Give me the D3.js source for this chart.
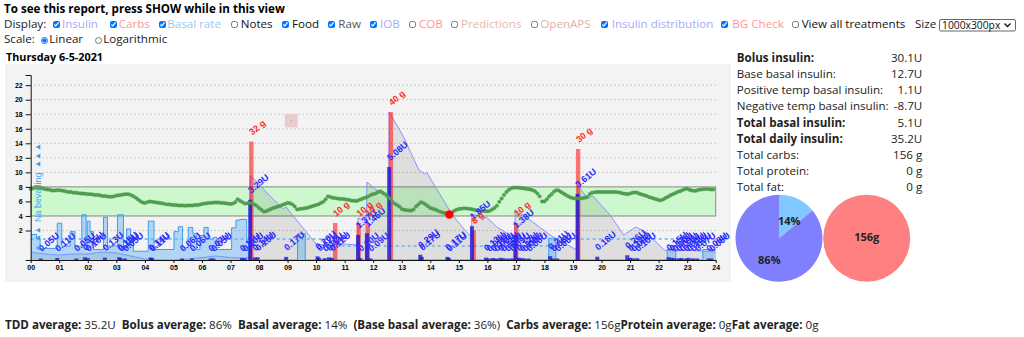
<!DOCTYPE html>
<html><head><meta charset="utf-8">
<script src="https://cdn.jsdelivr.net/npm/d3@7"></script>
<style>
body{margin:0;width:1024px;height:337px;overflow:hidden;background:#fff;position:relative;font-family:'Open Sans',sans-serif}
input{position:absolute;margin:0;padding:0;width:7px;height:7px}
</style></head>
<body>
<script>
// ---------------- DATA ----------------
const displayLabels = ["Insulin","Carbs","Basal rate","Notes","Food","Raw","IOB","COB","Predictions","OpenAPS","Insulin distribution","BG Check","View all treatments"];
const displayChecked = [true,true,true,false,true,true,true,false,false,false,true,true,false];
const displayColors = ["#a9a9f7","#ff9696","#96c8f2","#111","#111","#555","#a9a9f7","#ff9696","#e6b9a9","#e2b3a3","#a9a9f7","#ff9696","#111"];
const sizeOption = "1000x300px";

const hourLabels = d3.range(0,25).map(h => d3.format("02d")(h));
const bgTicks = [2,4,6,8,10,12,14,16,18,20,22];
const targetLow = 4, targetHigh = 8;

// sensor glucose, mmol/L, every 5 minutes from 00:00
const glucose = [
7.7,7.8,7.9,7.9,7.85,7.8,7.7,7.65,7.6,7.5,7.5,7.55,
7.55,7.5,7.45,7.35,7.3,7.3,7.2,7.2,7.15,7.1,7.1,7.05,
7.0,7.0,6.95,6.9,6.9,6.85,6.75,6.75,6.7,6.65,6.65,6.7,
6.8,6.85,6.9,6.95,7.0,7.0,6.9,6.75,6.55,6.3,6.05,5.85,
5.8,5.9,6.0,5.95,5.9,5.85,5.8,5.75,5.7,5.6,5.6,5.55,
5.5,5.5,5.45,5.45,5.45,5.4,5.45,5.45,5.45,5.5,5.5,5.55,
5.65,5.7,5.75,5.8,5.8,5.85,5.85,5.85,5.8,5.8,5.75,5.7,
5.65,5.7,5.9,6.3,6.1,5.9,5.7,5.75,5.8,5.75,5.6,5.4,
5.1,4.85,4.6,4.65,4.8,4.95,5.1,5.2,5.3,5.4,5.55,5.65,
5.8,5.75,5.6,5.3,4.9,4.95,5.0,5.05,5.1,5.2,5.3,5.4,
5.5,5.6,5.8,5.95,6.3,6.7,6.6,6.5,6.45,6.4,6.35,6.35,
6.3,6.25,6.2,6.1,6.1,6.05,6.2,6.3,6.45,6.55,6.7,6.9,
7.0,7.1,7.3,7.4,7.2,7.0,6.7,6.4,6.0,5.7,5.5,5.3,
4.95,4.85,4.8,4.75,4.75,4.9,5.3,5.6,5.9,5.8,5.6,5.35,
5.1,5.0,4.9,4.75,4.6,4.5,4.4,4.35,4.3,4.45,4.7,4.85,
4.95,5.0,5.05,5.05,5.0,4.95,4.9,4.8,4.75,4.7,4.7,4.65,
4.65,4.7,4.9,5.1,5.4,5.95,6.4,6.9,7.3,7.6,7.8,7.9,
7.9,7.9,7.85,7.8,7.75,7.7,7.65,7.55,7.4,7.1,6.7,6.0,
6.0,6.3,6.7,7.0,7.35,7.55,7.5,7.3,7.1,6.9,6.7,6.55,
6.45,6.4,6.4,6.4,6.45,6.5,6.6,7.0,7.2,7.25,7.3,7.3,
7.3,7.3,7.3,7.3,7.3,7.3,7.3,7.25,7.2,7.1,7.05,7.0,
7.1,7.2,7.25,7.2,7.05,6.95,6.85,6.75,6.6,6.5,6.4,6.3,
6.2,6.15,6.3,6.5,6.65,6.85,7.0,7.15,7.3,7.4,7.55,7.7,
7.75,7.6,7.5,7.45,7.5,7.6,7.65,7.7,7.7,7.7,7.65,7.65];

// insulin on board (U) at hour
const iobTimes = [0,0.5,1,1.5,2,2.5,3,3.5,4,4.5,5,5.5,6,6.5,7,7.5,7.68,7.7,8.0,8.25,8.6,8.85,8.95,9.2,9.6,10.0,10.3,10.65,11.0,11.45,11.47,11.76,11.78,12.2,12.54,12.56,13.03,13.6,13.8,13.87,14.2,14.8,15.27,15.44,15.46,16.0,16.33,16.8,16.96,16.98,17.4,18.2,18.8,19.14,19.16,19.5,19.7,20.3,20.78,21.2,21.55,22.2,22.5,23,23.5,24];
const iobValues = [0.38,0.3,0.25,0.3,0.3,0.4,0.35,0.2,0.05,0,0,0.05,0.12,0.2,0.12,0.1,0.15,4.2,3.8,3.4,2.9,2.55,2.65,2.2,1.5,0.8,0.75,0.85,0.8,0.75,2.1,1.95,3.9,3.4,3.2,7.4,6.25,4.5,4.3,4.4,3.6,2.2,1.4,1.15,2.3,2.1,1.65,1.25,1.2,2.5,2.1,1.25,0.75,0.5,3.75,3.1,3.2,2.25,1.25,1.65,1.4,0.5,0.45,0.5,0.45,0.4];

// temp basal rate (U/h), step starting at hour
const basalTimes = [0,0.21,0.33,0.93,1.09,1.38,1.55,1.79,1.94,1.98,2.08,2.2,2.55,2.69,3.04,3.25,3.36,3.5,3.6,4.12,4.32,5.02,5.17,5.32,5.52,5.68,5.82,5.93,6.07,6.22,6.4,6.52,7.04,7.19,7.33,7.57,7.66,9.35,9.62,18.15,18.4,22.3,22.6,23.55];
const basalRates = [0.73,0.6,0.33,1.05,0.4,0.81,0.4,1.29,0.4,1.11,0.81,0.3,1.22,0.4,1.29,0.35,0.89,0.7,0.25,1.11,0.3,0.81,0.95,0.35,0.93,0.75,0.3,0.7,0.93,0.6,0.65,0.3,0.92,1.14,1.16,0.5,0,0.75,0,0.62,0,0.3,0,0.3];
// profile basal (U/h)
const profileTimes = [0,10.5,18.25];
const profileRates = [0.6,0.4,0.6];

// boluses
const bolusTimes = [0.35,0.93,1.6,1.9,2.0,2.6,3.1,3.15,3.3,4.2,4.25,5.3,5.65,6.3,6.4,7.4,7.5,7.69,7.85,7.95,8.95,10.05,10.1,10.3,10.45,10.55,11.47,11.55,11.78,11.9,12.56,13.65,13.7,14.6,14.65,15.46,15.95,16.05,16.2,16.3,16.45,16.55,16.7,16.85,16.98,17.1,17.2,17.3,17.45,18.2,18.3,18.45,19.16,19.85,20.9,21.0,21.1,21.25,22.35,22.45,22.55,22.7,22.8,22.95,23.05,23.2,23.35,23.75,23.85];
const bolusAmounts = [0.05,0.11,0.05,0.15,0.10,0.13,0.15,0.10,0.05,0.14,0.11,0.06,0.06,0.07,0.05,0.11,0.10,3.29,0.14,0.15,0.17,0.20,0.12,0.10,0.14,0.12,1.37,0.10,1.46,0.09,5.08,0.29,0.17,0.17,0.11,1.85,0.13,0.09,0.11,0.08,0.12,0.10,0.07,0.09,1.38,0.12,0.10,0.08,0.06,0.21,0.08,0.06,3.61,0.18,0.26,0.12,0.09,0.10,0.15,0.12,0.10,0.09,0.11,0.08,0.12,0.09,0.07,0.08,0.06];

// carbs
const carbTimes = [7.73,10.67,11.49,11.81,12.62,15.52,17.01,19.18];
const carbAmounts = [32,10,10,10,40,8,10,30];

// markers
const switchTime = 0.25;
const switchLevels = [13.5,12.25,11.15,2.05,1.0,-0.4];
const switchNote = "Na bevalling";
const noteTime = 9.13, noteLevel = 17.1;
const bgCheckTime = 14.67, bgCheckValue = 4.2;

// summary table
const statLabels = ["Bolus insulin:","Base basal insulin:","Positive temp basal insulin:","Negative temp basal insulin:","Total basal insulin:","Total daily insulin:","Total carbs:","Total protein:","Total fat:"];
const statValues = ["30.1U","12.7U","1.1U","-8.7U","5.1U","35.2U","156 g","0 g","0 g"];
const statBold = [true,false,false,false,true,true,false,false,false];

const insulinPieLabels = ["Basal","Bolus"];
const insulinPieValues = [14,86];
const carbsPieValue = 156;

const footerLabels = ["TDD average:","Bolus average:","Basal average:","(Base basal average:","Carbs average:","Protein average:","Fat average:"];
const footerValues = ["35.2U","86%","14%","36%)","156g","0g","0g"];
const footerSep = ["  ","  ","  ","  ","","",""];

// ---------------- DRAW ----------------
const F = "'Open Sans', sans-serif";
const FS = 11.6;
const CF = "'Liberation Sans', Arial, sans-serif";
const body = d3.select("body");
const svg = body.append("svg").attr("width",1024).attr("height",337)
  .style("position","absolute").style("left","0px").style("top","0px");

svg.append("text").attr("x",4).attr("y",12.7).attr("font-family",F).attr("font-weight","bold")
  .attr("font-size",FS).text("To see this report, press SHOW while in this view");

// Display row
const boxX = [53.3,110,158.7,231,281.7,328.3,369.7,409.3,451,530.7,601,721,792];
const labX = [62,118.7,167.3,240.7,292,338.3,380,419,461,540.3,611.7,732.3,801.7];
svg.append("text").attr("x",4).attr("y",28).attr("font-family",F).attr("font-size",FS).attr("fill","#222").text("Display:");
displayLabels.forEach((l,i)=>{
  body.append("input").attr("type","checkbox").property("checked",displayChecked[i])
    .style("left",boxX[i]+"px").style("top","21px");
  svg.append("text").attr("x",labX[i]).attr("y",28).attr("font-family",F).attr("font-size",FS)
    .attr("fill",displayColors[i]).text(l);
});
svg.append("text").attr("x",915).attr("y",28).attr("font-family",F).attr("font-size",FS).attr("fill","#222").text("Size");
svg.append("rect").attr("x",939.5).attr("y",19.5).attr("width",76).attr("height",11.5).attr("rx",1.5)
  .attr("fill","#fff").attr("stroke","#666").attr("stroke-width",1);
svg.append("text").attr("x",942).attr("y",28.5).attr("font-family",F).attr("font-size",10.3).attr("fill","#111").text(sizeOption);
svg.append("path").attr("d","M1004.5,23.5 L1007.5,26.5 L1010.5,23.5").attr("fill","none").attr("stroke","#111").attr("stroke-width",1.4);

// Scale row
svg.append("text").attr("x",4).attr("y",43.3).attr("font-family",F).attr("font-size",FS).attr("fill","#222").text("Scale:");
body.append("input").attr("type","radio").attr("name","sc").property("checked",true).style("left","40.7px").style("top","36.5px");
svg.append("text").attr("x",49.3).attr("y",43.3).attr("font-family",F).attr("font-size",FS).attr("fill","#222").text("Linear");
body.append("input").attr("type","radio").attr("name","sc").style("left","95px").style("top","36.5px");
svg.append("text").attr("x",103.3).attr("y",43.3).attr("font-family",F).attr("font-size",FS).attr("fill","#222").text("Logarithmic");

// Title
svg.append("text").attr("x",6).attr("y",60.7).attr("font-family",F).attr("font-weight","bold").attr("font-size",10.8).text("Thursday 6-5-2021");

// panel
svg.append("rect").attr("x",5).attr("y",64).attr("width",726).attr("height",218).attr("fill","#f3f3f3");

const x = d3.scaleLinear().domain([0,24]).range([30.7,715.7]);
const y = d3.scaleLinear().domain([-2.06,23.4]).range([260,75]);
const yBolus = d3.scaleLinear().domain([0,10]).range([260,77]);
const yCarb = d3.scaleLinear().domain([0,50]).range([260,75]);
const yBasal = d3.scaleLinear().domain([0,5]).range([260,85]);
const yIob = d3.scaleLinear().domain([0,9.25]).range([260,75]);

const g = svg.append("g");
// grid
g.selectAll("line.grid").data(bgTicks).join("line").attr("class","grid")
  .attr("x1",x(0)).attr("x2",x(24)).attr("y1",d=>y(d)).attr("y2",d=>y(d))
  .attr("stroke","#aaa").attr("stroke-width",1).attr("stroke-dasharray","1,3");
// target band
g.append("rect").attr("x",x(0)).attr("y",y(targetHigh)).attr("width",x(24)-x(0)).attr("height",y(targetLow)-y(targetHigh))
  .attr("fill","#cdf7cd").attr("stroke","#8c8c8c").attr("stroke-width",1);

// IOB area
const iobData = iobTimes.map((t,i)=>[t,iobValues[i]]);
g.append("path").datum(iobData)
  .attr("d",d3.area().x(d=>x(d[0])).y0(yIob(0)).y1(d=>yIob(d[1])))
  .attr("fill","rgba(0,0,0,0.085)");
g.append("path").datum(iobData)
  .attr("d",d3.line().x(d=>x(d[0])).y(d=>yIob(d[1])))
  .attr("fill","none").attr("stroke","#8f8fff").attr("stroke-width",1);

// basal
const basalData = basalTimes.map((t,i)=>[t,basalRates[i]]);
basalData.push([24,basalRates[basalRates.length-1]]);
g.append("path").datum(basalData)
  .attr("d",d3.area().x(d=>x(d[0])).y0(yBasal(0)).y1(d=>yBasal(d[1])).curve(d3.curveStepAfter))
  .attr("fill","rgba(70,165,245,0.38)");
g.append("path").datum(basalData)
  .attr("d",d3.line().x(d=>x(d[0])).y(d=>yBasal(d[1])).curve(d3.curveStepAfter))
  .attr("fill","none").attr("stroke","#3d9cf0").attr("stroke-width",1);
const profData = profileTimes.map((t,i)=>[t,profileRates[i]]);
profData.push([24,profileRates[profileRates.length-1]]);
g.append("path").datum(profData)
  .attr("d",d3.line().x(d=>x(d[0])).y(d=>yBasal(d[1])).curve(d3.curveStepAfter))
  .attr("fill","none").attr("stroke","#5ab8f5").attr("stroke-width",1.3).attr("stroke-dasharray","3,3");

// carbs bars
const carbs = carbTimes.map((t,i)=>({t,a:carbAmounts[i]}));
g.selectAll("rect.carb").data(carbs).join("rect").attr("class","carb")
  .attr("x",d=>x(d.t)-2.2).attr("width",4.4).attr("y",d=>yCarb(d.a)).attr("height",d=>yCarb(0)-yCarb(d.a))
  .attr("fill","rgba(255,20,20,0.58)");
// bolus bars
const boluses = bolusTimes.map((t,i)=>({t,a:bolusAmounts[i]}));
g.selectAll("rect.bolus").data(boluses).join("rect").attr("class","bolus")
  .attr("x",d=>x(d.t)-2).attr("width",4).attr("y",d=>Math.min(yBolus(d.a),258.5)).attr("height",d=>260-Math.min(yBolus(d.a),258.5))
  .attr("fill","rgba(20,20,225,0.78)");

// glucose
g.selectAll("circle.sg").data(glucose).join("circle").attr("class","sg")
  .attr("cx",(d,i)=>x(i*5/60)).attr("cy",d=>y(d)).attr("r",1.7)
  .attr("fill","#54a354").attr("stroke","#3a853a").attr("stroke-width",0.4);

// BG check
g.append("circle").attr("cx",x(bgCheckTime)).attr("cy",y(bgCheckValue)).attr("r",4.2).attr("fill","#f00");

// note marker
g.append("rect").attr("x",x(noteTime)-6.4).attr("y",y(noteLevel)-6.7).attr("width",12.8).attr("height",13.4).attr("fill","#e9cdcd");
g.append("circle").attr("cx",x(noteTime)).attr("cy",y(noteLevel)).attr("r",0.6).attr("fill","#a070c0");

// labels
g.selectAll("text.bl").data(boluses).join("text").attr("class","bl")
  .attr("transform",d=>`translate(${x(d.t)+1},${Math.min(yBolus(d.a),258)-6}) rotate(-40)`)
  .attr("font-family",CF).attr("font-weight","bold").attr("font-size",9).attr("fill","#2b2bff")
  .text(d=>d.a.toFixed(2)+"U");
g.selectAll("text.cl").data(carbs).join("text").attr("class","cl")
  .attr("transform",d=>`translate(${x(d.t)+1},${yCarb(d.a)-6}) rotate(-40)`)
  .attr("font-family",CF).attr("font-weight","bold").attr("font-size",9).attr("fill","#ff2d2d")
  .text(d=>d.a+" g");

// profile switch markers
g.selectAll("path.sw").data(switchLevels).join("path").attr("class","sw")
  .attr("d",d=>{const cx=x(switchTime)+0.5, cy=y(d); return `M${cx-2.5},${cy} L${cx+2},${cy-2.5} L${cx+2},${cy+2.5} Z`;})
  .attr("fill","#3a9cf5");
g.append("text").attr("transform",`translate(${x(switchTime)+3},222) rotate(-90)`)
  .attr("font-family",CF).attr("font-size",9).attr("fill","#4aa3f0").text(switchNote);

// axes
const ya = g.append("g").attr("transform",`translate(${x(0)},0)`)
  .call(d3.axisLeft(y).tickValues(bgTicks).tickSize(5).tickSizeOuter(5).tickPadding(3));
const xa = g.append("g").attr("transform","translate(0,260)")
  .call(d3.axisBottom(x).tickValues(d3.range(0,25)).tickFormat((d,i)=>hourLabels[i]).tickSize(3).tickSizeOuter(0).tickPadding(2));
[ya,xa].forEach(a=>{
  a.selectAll("text").attr("font-family",CF).attr("font-weight","bold").attr("font-size",7).attr("fill","#000");
  a.selectAll("path,line").attr("stroke","#111");
});

// stats table
statLabels.forEach((l,i)=>{
  const yy = 62.3 + i*16.05;
  svg.append("text").attr("x",736.7).attr("y",yy).attr("font-family",F).attr("font-size",FS)
    .attr("font-weight",statBold[i]?"bold":"normal").attr("fill","#222").text(l);
  svg.append("text").attr("x",922.3).attr("y",yy).attr("text-anchor","end").attr("font-family",F).attr("font-size",FS)
    .attr("fill","#222").text(statValues[i]);
});

// pies
const pieR = 43.5;
const pieG = svg.append("g").attr("transform","translate(779,238.3)");
const arcs = d3.pie().sort(null)(insulinPieValues);
const arc = d3.arc().innerRadius(0).outerRadius(pieR);
pieG.selectAll("path").data(arcs).join("path").attr("d",arc).attr("fill",(d,i)=>i===0?"#80c8ff":"#8080ff");
const lblPos = [[10.2,-17.5],[-9.7,21.5]];
arcs.forEach((a,i)=>{
  pieG.append("text").attr("x",lblPos[i][0]).attr("y",lblPos[i][1]).attr("text-anchor","middle").attr("dy","0.35em")
    .attr("font-family",F).attr("font-weight","bold").attr("font-size",11).attr("fill","#222").text(insulinPieValues[i]+"%");
});
const carbG = svg.append("g").attr("transform","translate(866.7,238.3)");
carbG.selectAll("path").data(d3.pie()([carbsPieValue])).join("path").attr("d",arc).attr("fill","#ff8080");
carbG.append("text").attr("x",0).attr("y",-1.6).attr("text-anchor","middle").attr("dy","0.35em")
  .attr("font-family",F).attr("font-weight","bold").attr("font-size",11).attr("fill","#222").text(carbsPieValue+"g");

// footer
const ft = svg.append("text").attr("x",5).attr("y",329).attr("font-family",F).attr("font-size",FS).attr("fill","#222")
  .attr("xml:space","preserve").style("white-space","pre");
footerLabels.forEach((l,i)=>{
  ft.append("tspan").attr("font-weight","bold").text(l+" ");
  ft.append("tspan").text(footerValues[i]+footerSep[i]);
});
</script>
</body></html>
